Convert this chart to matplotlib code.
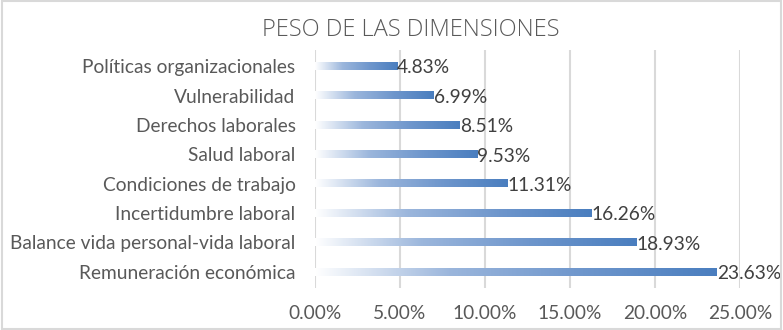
import matplotlib
matplotlib.use("Agg")
import matplotlib.pyplot as plt
import numpy as np
from matplotlib.colors import LinearSegmentedColormap
from matplotlib.patches import Rectangle

categories = ["Remuneración económica", "Balance vida personal-vida laboral",
              "Incertidumbre laboral", "Condiciones de trabajo", "Salud laboral",
              "Derechos laborales", "Vulnerabilidad", "Políticas organizacionales"]
values = [23.63, 18.93, 16.26, 11.31, 9.53, 8.51, 6.99, 4.83]
xticks = [0, 5, 10, 15, 20, 25]

font = "Lato"
fs = 13.8
fig = plt.figure(figsize=(7.83, 3.30), dpi=100)
fig.patch.set_facecolor("white")
fig.add_artist(Rectangle((0.002, 0.003), 0.996, 0.994, transform=fig.transFigure,
                         fill=False, edgecolor="#D9D9D9", linewidth=1.5))
ax = fig.add_axes([315/783, 1-288/330, (740-315)/783, (288-50)/330])

cmap = LinearSegmentedColormap.from_list("g", ["#FFFFFF", "#9BB6DC", "#6E96CC", "#4A7EBF"])
grad = np.linspace(0, 1, 256).reshape(1, -1)
h = 0.25
ys = np.arange(len(categories))
for y, v in zip(ys, values):
    ax.imshow(grad, cmap=cmap, aspect="auto", extent=(0, v, y - h/2, y + h/2),
              interpolation="bilinear", zorder=3)
    ax.text(v, y - 0.06, f"{v:.2f}%", va="center", ha="left", fontsize=fs,
            color="#404040", family=font, zorder=4)

ax.set_xlim(0, 25)
ax.set_ylim(-0.55, 7.55)
ax.set_yticks(ys)
ax.set_yticklabels(categories, fontsize=fs, color="#595959", family=font)
ax.set_xticks(xticks)
ax.set_xticklabels([f"{t:.2f}%" for t in xticks], fontsize=fs, color="#595959", family=font)
ax.tick_params(axis="y", length=0, pad=14)
ax.tick_params(axis="x", length=0, pad=12)
ax.grid(axis="x", color="#D9D9D9", linewidth=1.5, zorder=0)
ax.set_axisbelow(True)
for s in ax.spines.values():
    s.set_visible(False)

fig.text(411/783, 1-30/330, "PESO DE LAS DIMENSIONES", ha="center", va="center",
         fontsize=17, color="#595959", family="Open Sans", fontweight="light")

fig.savefig("out.png", dpi=100)
